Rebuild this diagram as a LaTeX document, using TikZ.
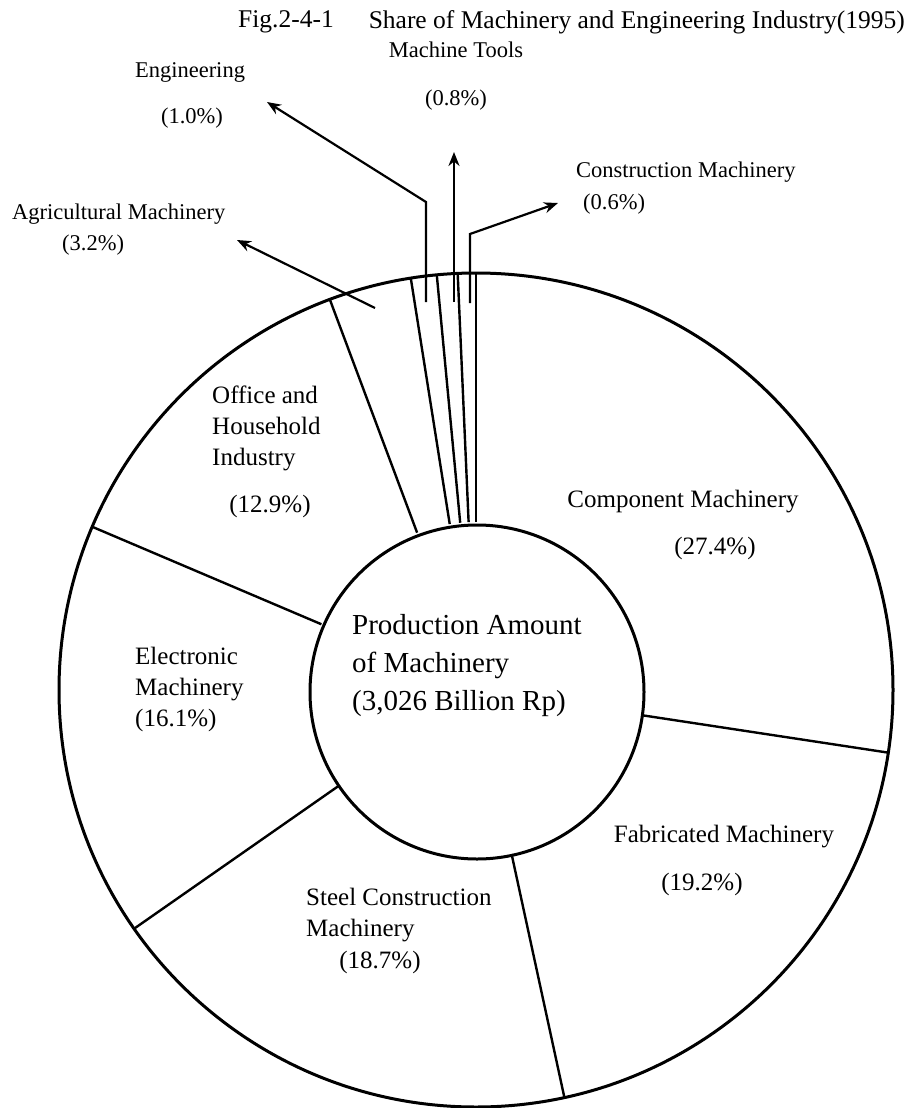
\documentclass[tikz,border=0pt]{standalone}
\usepackage{fontspec}
\setmainfont{Liberation Serif}
\usetikzlibrary{arrows.meta}

\tikzset{
  seglabel/.style={font=\fontsize{25}{31}\selectfont, align=left, inner sep=0pt},
  toplabel/.style={font=\fontsize{22.5}{28}\selectfont, inner sep=0pt},
  titlelabel/.style={font=\fontsize{25.5}{30}\selectfont, inner sep=0pt},
  pointer/.style={line width=2.2pt, -{Stealth[length=14pt,width=11pt]}},
}

\begin{document}
\begin{tikzpicture}[x=1pt,y=-1pt]
\useasboundingbox (0,0) rectangle (912,1108);
%%%%%%%%%%%%%%%%%%%%%%%%%%%%%%%
% ring
%%%%%%%%%%%%%%%%%%%%%%%%%%%%%%%
\draw [line width=3pt] (476,690) circle [radius=417];
\draw [line width=3pt] (477,692) circle [radius=167];
%
\foreach \c in {0,27.4,46.6,65.3,81.4,94.3,97.5,98.5,99.3}
  \draw [line width=2.4pt, shift={(476,690)}] ({3.6*\c-90}:168) -- ({3.6*\c-90}:417);
%%%%%%%%%%%%%%%%%%%%%%%%%%%%%%%
% title
%%%%%%%%%%%%%%%%%%%%%%%%%%%%%%%
\node (fignum) [titlelabel, anchor=west] at (238,22) {Fig.2-4-1};
\node (title)  [titlelabel, anchor=east] at (905,22) {Share of Machinery and Engineering Industry(1995)};
%%%%%%%%%%%%%%%%%%%%%%%%%%%%%%%
% small slices
%%%%%%%%%%%%%%%%%%%%%%%%%%%%%%%
\node (tools)    [toplabel] at (456,50) {Machine Tools};
\node (toolspct) [toplabel] at (456,100) {(0.8\%)};
\node (eng)      [toplabel] at (190,72) {Engineering};
\node (engpct)   [toplabel] at (192,118) {(1.0\%)};
\node (cons)     [toplabel, anchor=west] at (576,172) {Construction Machinery};
\node (conspct)  [toplabel, anchor=west] at (583,204) {(0.6\%)};
\node (agri)     [toplabel, anchor=west] at (12,214) {Agricultural Machinery};
\node (agripct)  [toplabel, anchor=west] at (62,245) {(3.2\%)};
%
\coordinate (agritail) at (375,308);
\coordinate (agritip)  at (237,240);
\coordinate (engtail)  at (426,302);
\coordinate (engbend)  at (426,202);
\coordinate (engtip)   at (267,102);
\coordinate (tooltail) at (454,302);
\coordinate (tooltip)  at (454,152);
\coordinate (constail) at (470,303);
\coordinate (consbend) at (470,234);
\coordinate (constip)  at (558,203);
%
\draw [pointer] (agritail) -- (agritip);
\draw [pointer] (engtail) -- (engbend) -- (engtip);
\draw [pointer] (tooltail) -- (tooltip);
\draw [pointer] (constail) -- (consbend) -- (constip);
%%%%%%%%%%%%%%%%%%%%%%%%%%%%%%%
% big slices
%%%%%%%%%%%%%%%%%%%%%%%%%%%%%%%
\node (office)    [seglabel, anchor=west] at (212,428) {Office and\\Household\\Industry};
\node (officepct) [seglabel] at (270,506) {(12.9\%)};
\node (comp)      [seglabel] at (683,502) {Component Machinery};
\node (comppct)   [seglabel] at (715,548) {(27.4\%)};
\node (elec)      [seglabel, anchor=west] at (135,689) {Electronic\\Machinery\\(16.1\%)};
\node (fab)       [seglabel] at (724,837) {Fabricated Machinery};
\node (fabpct)    [seglabel] at (702,884) {(19.2\%)};
\node (steel)     [seglabel, anchor=west] at (306,915) {Steel Construction\\Machinery};
\node (steelpct)  [seglabel] at (380,962) {(18.7\%)};
%
\node (total) [anchor=west, align=left, inner sep=0pt, font=\fontsize{29}{38}\selectfont]
  at (352,666) {Production Amount\\of Machinery\\(3,026 Billion Rp)};
%%%%%%%%%%%%%%%%%%%%%%%%%%%%%%%
\end{tikzpicture}
\end{document}
